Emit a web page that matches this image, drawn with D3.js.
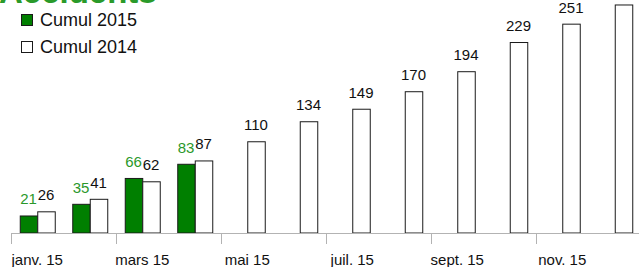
<!DOCTYPE html>
<html><head><meta charset="utf-8">
<script src="https://cdn.jsdelivr.net/npm/d3@7/dist/d3.min.js"></script>
<style>body{margin:0;background:#fff;}svg{display:block;font-family:"Liberation Sans",Arial,sans-serif;}</style>
</head><body>
<svg id="c" width="639" height="267"></svg>
<script>
const months = ["janv. 15","févr. 15","mars 15","avr. 15","mai 15","juin 15","juil. 15","août 15","sept. 15","oct. 15","nov. 15","déc. 15"];
const series = ["Cumul 2015","Cumul 2014"];
const cumul2015 = [21, 35, 66, 83, null, null, null, null, null, null, null, null];
const cumul2014 = [26, 41, 62, 87, 110, 134, 149, 170, 194, 229, 251, 274];
const tickMonths = ["janv. 15","mars 15","mai 15","juil. 15","sept. 15","nov. 15"];

const svg = d3.select("#c");
const base = 233;
const x = d3.scaleBand().domain(months).range([11, 641]).paddingInner(0).paddingOuter(0);
const xs = d3.scaleBand().domain(series).range([0, x.bandwidth()]).paddingInner(0).paddingOuter(0.5);
const y = d3.scaleLinear().domain([0, 300]).range([base, base - 250.2]);

const green = "#007f00", labelGreen = "#2a982a";

// title (mostly cut off at the top edge, as in the reference)
svg.append("text").attr("x", -1).attr("y", 3).attr("font-size", 33).attr("font-weight", "bold")
  .attr("fill", "#2a9a2a").text("Accidents");

const data = [
  {s: series[0], vals: cumul2015, fill: green, lab: labelGreen},
  {s: series[1], vals: cumul2014, fill: "#ffffff", lab: "#111"}
];

data.forEach(d => {
  const pts = months.map((m, i) => ({m, v: d.vals[i]})).filter(p => p.v != null);
  svg.append("g").selectAll("rect").data(pts).join("rect")
    .attr("x", p => x(p.m) + xs(d.s) + 0.5)
    .attr("y", p => y(p.v) + 0.5)
    .attr("width", xs.bandwidth())
    .attr("height", p => base - y(p.v) - 0.5)
    .attr("fill", d.fill).attr("stroke", "#1a1a1a").attr("stroke-width", 1);
  svg.append("g").selectAll("text").data(pts).join("text")
    .attr("x", p => x(p.m) + xs(d.s) + xs.bandwidth() / 2)
    .attr("y", p => y(p.v) - 11)
    .attr("text-anchor", "middle").attr("font-size", 15).attr("fill", d.lab)
    .text(p => p.v);
});

// axis
const ax = svg.append("g");
ax.append("line").attr("x1", 11).attr("x2", 641).attr("y1", base + 0.5).attr("y2", base + 0.5)
  .attr("stroke", "#b3b3b3");
tickMonths.concat(["__end"]).forEach(m => {
  const tx = m === "__end" ? x.range()[1] : x(m);
  ax.append("line").attr("x1", Math.round(tx) + 0.5).attr("x2", Math.round(tx) + 0.5)
    .attr("y1", base).attr("y2", base + 11).attr("stroke", "#b3b3b3");
});
ax.selectAll("text.t").data(tickMonths).join("text").attr("class", "t")
  .attr("x", m => x(m) + x.bandwidth() / 2).attr("y", 265)
  .attr("text-anchor", "middle").attr("font-size", 15).attr("fill", "#111").text(m => m);

// legend
const lg = svg.append("g");
series.forEach((s, i) => {
  lg.append("rect").attr("x", 21.5).attr("y", 14.5 + i * 27).attr("width", 11).attr("height", 11)
    .attr("fill", i === 0 ? green : "#fff").attr("stroke", "#1a1a1a");
  lg.append("text").attr("x", 40).attr("y", 26 + i * 27).attr("font-size", 18).attr("fill", "#111").text(s);
});
</script>
</body></html>
